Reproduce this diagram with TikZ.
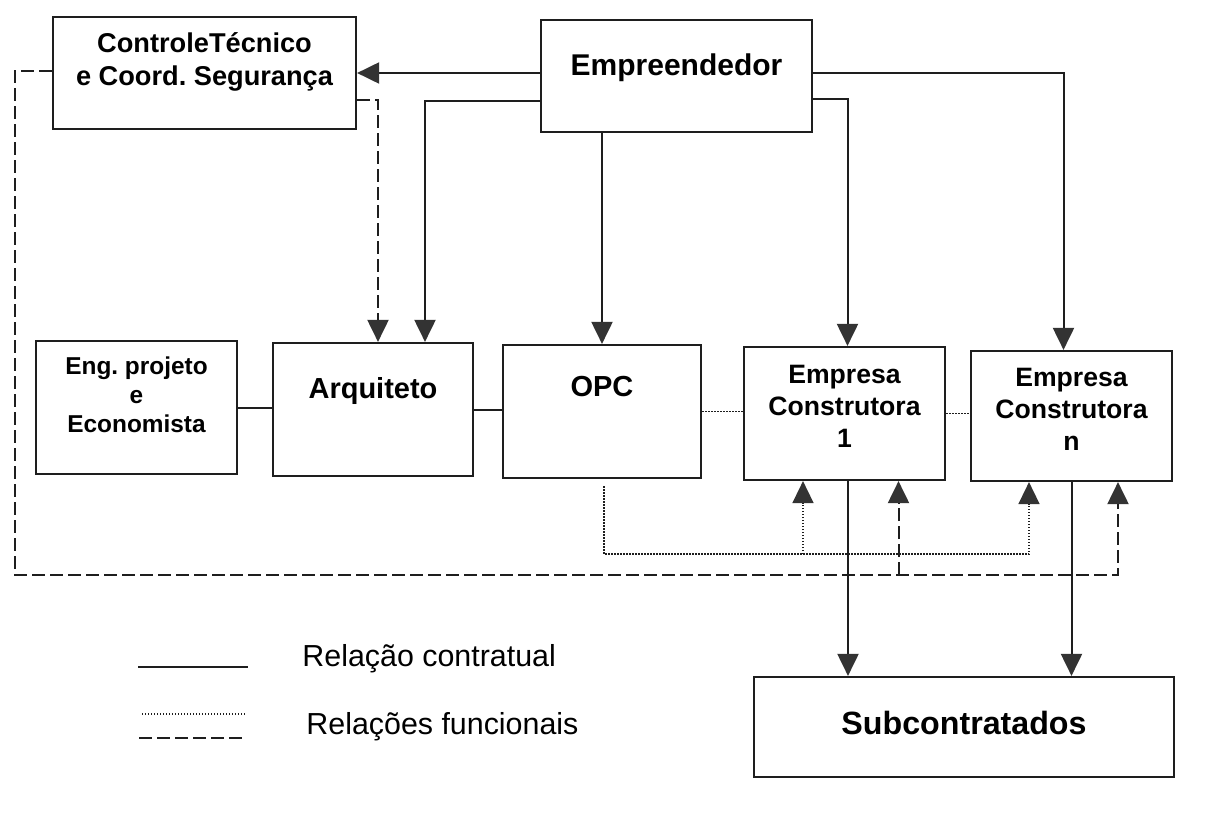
\documentclass[tikz,border=0pt]{standalone}
\usepackage{fontspec}
\setmainfont{Liberation Sans}
\usetikzlibrary{arrows.meta,calc}
\definecolor{ink}{HTML}{1E1E1E}
\definecolor{tipgray}{HTML}{333333}
\frenchspacing
\begin{document}
\begin{tikzpicture}[x=0.5pt,y=-0.5pt,
  box/.style 2 args={draw=ink, line width=1.1pt, fill=white, inner sep=0pt,
    minimum width=#1*0.5pt, minimum height=#2*0.5pt},
  lbl/.style={text=black, align=center, inner sep=0pt},
  ln/.style={draw=ink, line width=1pt},
  arr/.style={-{Triangle[length=11pt,width=10.5pt,color=tipgray]}},
  dsh/.style={draw=ink, line width=1pt, dash pattern=on 6.5pt off 2.5pt},
  dot/.style={draw=ink, line width=0.8pt, dash pattern=on 0.7pt off 0.8pt},
]
\fill[white] (0,0) rectangle (1216,819);
\useasboundingbox (0,0) rectangle (1216,819);

% boxes
\node[box={303}{112}] (ct)   at (204.5,73)   {};
\node[box={271}{112}] (emp)  at (676.5,76)   {};
\node[box={201}{133}] (eng)  at (136.5,407.5) {};
\node[box={200}{133}] (arch) at (373,409.5)  {};
\node[box={198}{133}] (opc)  at (602,411.5)  {};
\node[box={201}{133}] (e1)   at (844.5,413.5) {};
\node[box={201}{130}] (en)   at (1071.5,416) {};
\node[box={420}{100}] (subc) at (964,727)    {};

% box texts
\node[lbl, font=\bfseries\fontsize{13.6}{16.5}\selectfont] (ct-t) at (204.5,62) {ControleTécnico\\e Coord. Segurança};
\node[lbl, font=\bfseries\fontsize{15}{18}\selectfont, anchor=base] (emp-t) at (676.5,75) {Empreendedor};
\node[lbl, font=\bfseries\fontsize{12.2}{14.5}\selectfont] (eng-t) at (136.5,395) {Eng. projeto\\e\\Economista};
\node[lbl, font=\bfseries\fontsize{14.5}{17}\selectfont, anchor=base] (arch-t) at (373,398) {Arquiteto};
\node[lbl, font=\bfseries\fontsize{14.5}{17}\selectfont, anchor=base] (opc-t) at (602,396) {OPC};
\node[lbl, font=\bfseries\fontsize{13.3}{16}\selectfont] (e1-t) at (844.5,406.5) {Empresa\\Construtora\\1};
\node[lbl, font=\bfseries\fontsize{13.3}{16}\selectfont] (en-t) at (1071.5,409.5) {Empresa\\Construtora\\n};
\node[lbl, font=\bfseries\fontsize{16.1}{19}\selectfont, anchor=base] (subc-t) at (964,734) {Subcontratados};

% contractual relations
\draw[ln,arr] (emp.west |- ct.east) -- (ct.east);
\draw[ln,arr] ($(emp.west)+(0,25)$) -| ($(arch.north)+(52,0)$);
\draw[ln,arr] (emp.south -| opc.north) -- (opc.north);
\draw[ln,arr] ($(emp.east)+(0,23)$) -| ($(e1.north)+(3,0)$);
\draw[ln,arr] ($(emp.east)+(0,-3)$) -| ($(en.north)+(-8,0)$);
\draw[ln] (eng.east) -- (eng.east -| arch.west);
\draw[ln] (arch.east) -- (arch.east -| opc.west);
\coordinate (e1d) at ($(e1.south)+(3.5,0)$);
\draw[ln,arr] (e1d) -- (e1d |- subc.north);
\draw[ln,arr] (en.south) -- (en.south |- subc.north);

% functional relations (dotted)
\draw[dot] (opc.east) -- (opc.east -| e1.west);
\draw[dot] (e1.east) -- (e1.east -| en.west);
\coordinate (opcs) at ($(opc.south)+(2,7)$);
\coordinate (fbus) at (604,554);
\coordinate (e1a) at ($(e1.south)+(-41.5,0)$);
\coordinate (ena) at ($(en.south)+(-42.5,0)$);
\draw[dot,arr] (opcs) -- (fbus) -| (ena);
\draw[dot,arr] (fbus -| e1a) -- (e1a);

% functional relations (dashed)
\coordinate (ctw) at ($(ct.west)+(0,-2)$);
\coordinate (dbus) at (15,575);
\coordinate (e1b) at ($(e1.south)+(54,0)$);
\coordinate (enb) at ($(en.south)+(46.5,0)$);
\draw[dsh,arr] (ctw) -| (dbus) -| (enb);
\draw[dsh,arr] (dbus -| e1b) -- (e1b);
\draw[dsh,arr] ($(ct.east)+(0,27)$) -| ($(arch.north)+(5,0)$);

% legend
\coordinate (lg1a) at (138,667); \coordinate (lg1b) at (248,667);
\coordinate (lg2a) at (142,714); \coordinate (lg2b) at (246,714);
\coordinate (lg3a) at (139,738); \coordinate (lg3b) at (242,738);
\draw[ln] (lg1a) -- (lg1b);
\draw[dot] (lg2a) -- (lg2b);
\draw[dsh] (lg3a) -- (lg3b);
\node[lbl, font=\fontsize{15.2}{18}\selectfont, anchor=base west] (lg-c) at (302,666) {Relação contratual};
\node[lbl, font=\fontsize{15.2}{18}\selectfont, anchor=base west] (lg-f) at (306,734) {Relações funcionais};
\end{tikzpicture}
\end{document}
